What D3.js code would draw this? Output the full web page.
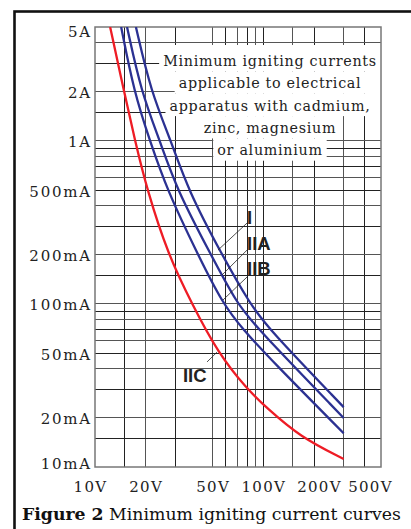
<!DOCTYPE html>
<html lang="en">
<head>
<meta charset="UTF-8" />
<script src="https://d3js.org/d3.v7.min.js"></script>
<title>Minimum igniting current curves</title>
<style>
  body { margin: 0; overflow: hidden; background: white; }
  .serif { font-family: "DejaVu Serif", serif; }
  .grp { font-family: "Liberation Sans", Arial, sans-serif; font-weight: bold; font-size: 18.5px; fill: #222; }
</style>
</head>
<body>
<script>
// voltage axis (V)
const xTicks = [10, 20, 50, 100, 200, 500];
const xTickLabels = ["10V", "20V", "50V", "100V", "200V", "500V"];
const xGrid = [15, 20, 30, 50, 60, 70, 80, 90, 100, 150, 200, 300, 400];

// current axis (A)
const yTicks = [5, 2, 1, 0.5, 0.2, 0.1, 0.05, 0.02, 0.01];
const yTickLabels = ["5A", "2A", "1A", "500mA", "200mA", "100mA", "50mA", "20mA", "10mA"];
const yGrid = [4, 3, 2, 1.5, 1, 0.9, 0.8, 0.7, 0.6, 0.5, 0.4, 0.3, 0.2, 0.15,
               0.1, 0.09, 0.08, 0.07, 0.06, 0.05, 0.04, 0.03, 0.02, 0.015];

// curves: voltage (V) -> minimum igniting current (A)
const groups = ["I", "IIA", "IIB", "IIC"];
const voltsI   = [17.5, 21.5, 28.3, 35.7, 56.8, 83.3, 108, 300];
const ampsI    = [5, 2, 1, 0.5, 0.2, 0.1, 0.07, 0.0233];
const voltsIIA = [15.5, 18.8, 24.3, 30.7, 48.9, 69.8, 93, 300];
const ampsIIA  = [5, 2, 1, 0.5, 0.2, 0.1, 0.07, 0.0200];
const voltsIIB = [14.3, 17.05, 21.2, 26.8, 40.9, 57.5, 75.5, 112, 300];
const ampsIIB  = [5, 2, 1, 0.5, 0.2, 0.1, 0.07, 0.045, 0.0161];
const voltsIIC = [12.3, 14.9, 17.3, 20.4, 27.2, 37.7, 53.8, 80, 105, 165, 300];
const ampsIIC  = [5, 2, 1, 0.5, 0.2, 0.1, 0.05, 0.03, 0.023, 0.0153, 0.0112];

// group labels: text start [V, A], leader line from / to [V, A]
const labelAt  = [[80, 0.309], [80, 0.214], [80, 0.1505], [33.3, 0.0332]];
const leaderA  = [[80, 0.3135], [80, 0.214], [80, 0.1463], [53.1, 0.0507]];
const leaderB  = [[53.8, 0.214], [56.8, 0.1505], [57.6, 0.1058], [46.3, 0.0441]];

const noteLines = ["Minimum igniting currents", "applicable to electrical",
                   "apparatus with cadmium,", "zinc, magnesium", "or aluminium"];

const width = 411;
const height = 529;
const margin = { top: 27, right: 30, bottom: 62, left: 95 };

const svg = d3.select("body").append("svg")
    .attr("width", width)
    .attr("height", height);

const x = d3.scaleLog().domain([10, 500]).range([margin.left, width - margin.right]);
const y = d3.scaleLog().domain([0.01, 5]).range([height - margin.bottom, margin.top]);

const red = "#ee1c25";
const blue = "#2b3192";
const colors = [blue, blue, blue, red];

// outer frame
svg.append("rect")
    .attr("x", 14.5).attr("y", 11.5)
    .attr("width", 420).attr("height", 540)
    .attr("fill", "none").attr("stroke", "#111").attr("stroke-width", 2.6);

// grid
const grid = svg.append("g").attr("shape-rendering", "crispEdges");
grid.selectAll(".vx").data(xGrid).join("line")
    .attr("x1", d => x(d)).attr("x2", d => x(d))
    .attr("y1", y.range()[1]).attr("y2", y.range()[0])
    .attr("stroke", (d, i) => i % 2 ? "#555" : "#222");
grid.selectAll(".hy").data(yGrid).join("line")
    .attr("x1", x.range()[0]).attr("x2", x.range()[1])
    .attr("y1", d => y(d)).attr("y2", d => y(d))
    .attr("stroke", (d, i) => i % 2 ? "#222" : "#555");

// note: white backing behind each line hides the grid
const note = svg.append("g").attr("class", "serif");
const noteCx = 270;
const lineGap = 22.3;
let boxTop = 45;
noteLines.forEach((t, i) => {
    const base = 66 + i * lineGap;
    const g = note.append("g");
    const txt = g.append("text")
        .attr("x", noteCx).attr("y", base)
        .attr("text-anchor", "middle")
        .attr("font-size", 14.3)
        .attr("letter-spacing", 0.7)
        .attr("fill", "#222")
        .text(t);
    const b = txt.node().getBBox();
    const left = b.x - 4;
    const right = i < 3 ? x.range()[1] : b.x + b.width + 4;
    const bottom = base + 5.5;
    g.insert("rect", "text")
        .attr("x", left).attr("y", boxTop)
        .attr("width", right - left)
        .attr("height", bottom - boxTop)
        .attr("fill", "white");
    boxTop = bottom;
});

// plot border
svg.append("rect")
    .attr("x", x.range()[0]).attr("y", y.range()[1])
    .attr("width", x.range()[1] - x.range()[0])
    .attr("height", y.range()[0] - y.range()[1])
    .attr("fill", "none").attr("stroke", "#777").attr("stroke-width", 1.5);

// curves
svg.append("clipPath").attr("id", "plot")
    .append("rect")
    .attr("x", x.range()[0]).attr("y", y.range()[1])
    .attr("width", x.range()[1] - x.range()[0])
    .attr("height", y.range()[0] - y.range()[1]);

const series = [
    d3.zip(voltsI, ampsI),
    d3.zip(voltsIIA, ampsIIA),
    d3.zip(voltsIIB, ampsIIB),
    d3.zip(voltsIIC, ampsIIC)
];

const line = d3.line()
    .x(d => x(d[0]))
    .y(d => y(d[1]))
    .curve(d3.curveBasis);

svg.append("g").attr("clip-path", "url(#plot)")
    .selectAll("path").data(series).join("path")
    .attr("d", line)
    .attr("fill", "none")
    .attr("stroke", (d, i) => colors[i])
    .attr("stroke-width", 2.3);

// group labels + leader lines
svg.append("g").selectAll("line").data(groups).join("line")
    .attr("x1", (d, i) => x(leaderA[i][0])).attr("y1", (d, i) => y(leaderA[i][1]))
    .attr("x2", (d, i) => x(leaderB[i][0])).attr("y2", (d, i) => y(leaderB[i][1]))
    .attr("stroke", "#222").attr("stroke-width", 0.8);

svg.append("g").selectAll("text").data(groups).join("text")
    .attr("class", "grp")
    .attr("x", (d, i) => x(labelAt[i][0]))
    .attr("y", (d, i) => y(labelAt[i][1]))
    .text(d => d);

// axes
const yAxis = svg.append("g")
    .attr("transform", `translate(${x.range()[0]},0)`)
    .call(d3.axisLeft(y).tickValues(yTicks).tickFormat((d, i) => yTickLabels[i])
        .tickSize(0).tickPadding(3));
yAxis.select(".domain").remove();
yAxis.selectAll("text")
    .attr("class", "serif")
    .attr("font-size", 15)
    .attr("letter-spacing", 1.8)
    .attr("fill", "#222")
    .attr("dy", (d, i) => i === 0 ? "0.62em" : i === yTicks.length - 1 ? "0.1em" : "0.4em");

const xNudge = { 10: -5, 200: 5, 500: -11 };
const xAxis = svg.append("g")
    .attr("transform", `translate(0,${y.range()[0]})`)
    .call(d3.axisBottom(x).tickValues(xTicks).tickFormat((d, i) => xTickLabels[i])
        .tickSize(0).tickPadding(14));
xAxis.select(".domain").remove();
xAxis.selectAll("text")
    .attr("class", "serif")
    .attr("font-size", 15)
    .attr("letter-spacing", 1.3)
    .attr("fill", "#222")
    .attr("dx", d => xNudge[d] || 0);

// caption
const cap = svg.append("text")
    .attr("class", "serif")
    .attr("x", 22).attr("y", 520)
    .attr("font-size", 17.3)
    .attr("fill", "#111");
cap.append("tspan").attr("font-weight", "bold").text("Figure 2");
cap.append("tspan").text(" Minimum igniting current curves");
</script>
</body>
</html>
